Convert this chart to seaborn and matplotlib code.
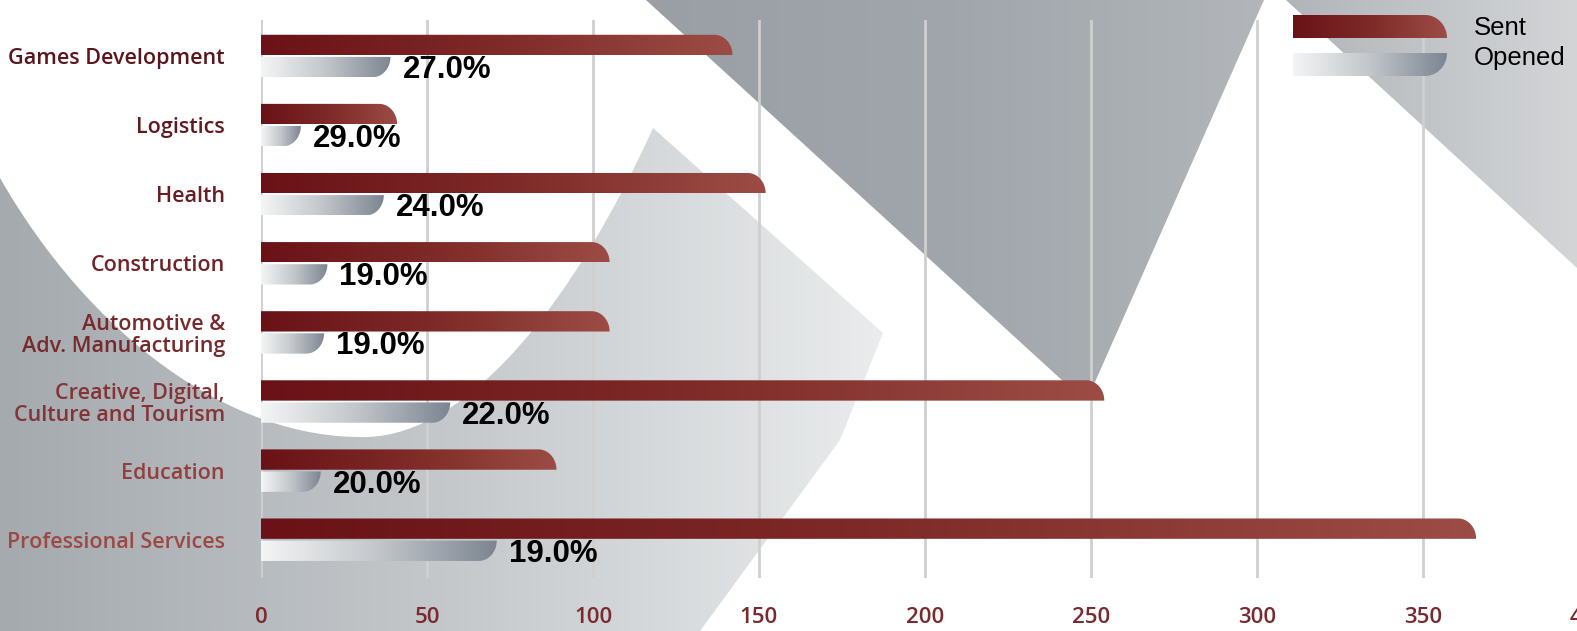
import numpy as np
import pandas as pd
import matplotlib
matplotlib.use("Agg")
import matplotlib.pyplot as plt
from matplotlib.path import Path
from matplotlib.patches import PathPatch
from matplotlib.colors import LinearSegmentedColormap
import seaborn as sns

# data
categories = [
    "Games Development",
    "Logistics",
    "Health",
    "Construction",
    "Automotive &\nAdv. Manufacturing",
    "Creative, Digital,\nCulture and Tourism",
    "Education",
    "Professional Services",
]
sent = [142, 41, 152, 105, 105, 254, 89, 366]
opened = [39, 12, 37, 20, 19, 57, 18, 71]
open_rate = [27.0, 29.0, 24.0, 19.0, 19.0, 22.0, 20.0, 19.0]
series = ["Sent", "Opened"]
x_ticks = [0, 50, 100, 150, 200, 250, 300, 350, 400]

label_colors = ["#5a161c", "#62191e", "#6a1d22", "#712328", "#78292c",
                "#843336", "#923f3d", "#9c4944"]
sent_cmap = LinearSegmentedColormap.from_list("sent", ["#6a1217", "#7e2a28", "#9c4c45"])
open_cmap = LinearSegmentedColormap.from_list("opened", ["#f4f5f5", "#c2c6ca", "#7c8591"])

W, H = 1577, 631
sns.set_style("white")
fig = plt.figure(figsize=(W / 100, H / 100), dpi=100)
fig.patch.set_facecolor("white")

# ---- decorative background, in pixel coordinates ----
bg = fig.add_axes([0, 0, 1, 1], zorder=0)
bg.set_xlim(0, W)
bg.set_ylim(H, 0)
bg.axis("off")


def grad_fill(axis, path, cmap, extent, horizontal=True, z=0):
    g = np.linspace(0, 1, 256)
    g = g[None, :] if horizontal else g[:, None]
    im = axis.imshow(g, cmap=cmap, extent=extent, aspect="auto", zorder=z,
                     interpolation="bicubic")
    patch = PathPatch(path, transform=axis.transData, facecolor="none", edgecolor="none")
    axis.add_patch(patch)
    im.set_clip_path(patch)
    return im


M, L, C4, CP = Path.MOVETO, Path.LINETO, Path.CURVE4, Path.CLOSEPOLY
left_shape = Path(
    [(0, 178), (90, 335), (230, 440), (367, 437),
     (470, 434), (575, 300), (653, 128),
     (883, 333), (840, 440), (700, 631), (0, 631), (0, 178)],
    [M, C4, C4, C4, C4, C4, C4, L, L, L, L, CP],
)
grad_fill(bg, left_shape,
          LinearSegmentedColormap.from_list("g1", ["#a5aaaf", "#c4c8cb", "#eaeced"]),
          (0, 890, H, 0))

v_shape = Path([(646, 0), (1064, 382), (1080, 390), (1095, 382), (1264, 0), (646, 0)],
               [M, L, L, L, L, CP])
grad_fill(bg, v_shape,
          LinearSegmentedColormap.from_list("g2", ["#999fa5", "#a0a6ac", "#b2b6ba"]),
          (646, 1264, 390, 0))

tr_shape = Path([(1286, 0), (W, 0), (W, 268), (1286, 0)], [M, L, L, CP])
grad_fill(bg, tr_shape,
          LinearSegmentedColormap.from_list("g3", ["#b1b5b9", "#d3d5d7"]),
          (1286, W, 268, 0))

# ---- main chart ----
df = pd.DataFrame({
    "Category": categories * 2,
    "Value": sent + opened,
    "Series": ["Sent"] * len(sent) + ["Opened"] * len(opened),
})

ax = fig.add_axes([261 / W, 53 / H, 1328 / W, 558 / H], zorder=2)
ax.patch.set_alpha(0)
sns.barplot(data=df, y="Category", x="Value", hue="Series", hue_order=series,
            order=categories, orient="h", width=0.64, gap=0.08, legend=False, ax=ax)
ax.set_xlim(0, 400)
ax.set_ylim(7.554, -0.521)

px_per_unit = ax.transData.transform((1, 0))[0] - ax.transData.transform((0, 0))[0]
rx = 18 / px_per_unit
t = np.linspace(0, np.pi / 2, 24)


def bar_path(x1, y, h, top_round):
    if top_round:
        arc = [(x1 - rx + rx * np.cos(a), y + h - h * np.sin(a)) for a in t]
        pts = [(0, y + h)] + arc + [(0, y), (0, y + h)]
    else:
        arc = [(x1 - rx + rx * np.cos(a), y + h * np.sin(a)) for a in t]
        pts = [(0, y)] + arc + [(0, y + h), (0, y)]
    codes = [M] + [L] * (len(pts) - 2) + [CP]
    return Path(pts, codes)


for k, (cont, cmap) in enumerate(zip(ax.containers, [sent_cmap, open_cmap])):
    for bar in cont:
        x1, y, h = bar.get_width(), bar.get_y(), bar.get_height()
        bar.set_visible(False)
        grad_fill(ax, bar_path(x1, y, h, k == 0), cmap, (0, x1, y + h, y), z=2)

for bar, r in zip(ax.containers[1], open_rate):
    ax.annotate(f"{r:.1f}%", xy=(bar.get_width(), bar.get_y() + bar.get_height() / 2),
                xytext=(12, -3), textcoords="offset pixels", va="center", ha="left",
                fontsize=22.5, fontweight="bold", family="Liberation Sans",
                color="black", zorder=4)

ax.set_xlim(0, 400)
ax.set_ylim(7.554, -0.521)
ax.set_xticks(x_ticks)
ax.set_xlabel("")
ax.set_ylabel("")
ax.grid(axis="x", color="#cfcfcf", linewidth=2)
ax.grid(axis="y", visible=False)
ax.set_axisbelow(True)
for s in ax.spines.values():
    s.set_visible(False)
ax.tick_params(axis="x", length=0, pad=21, labelsize=16, labelcolor="#7a2a2e")
ax.tick_params(axis="y", length=0, pad=26)
for lab in ax.get_xticklabels():
    lab.set_family("Open Sans")
    lab.set_fontweight("semibold")
for lab, col in zip(ax.get_yticklabels(), label_colors):
    lab.set_color(col)
    lab.set_family("Open Sans")
    lab.set_fontweight("semibold")
    lab.set_fontsize(15.5)
    lab.set_linespacing(1.05)

# ---- legend ----
lg = fig.add_axes([0, 0, 1, 1], zorder=5)
lg.set_xlim(0, W)
lg.set_ylim(H, 0)
lg.axis("off")
lg.patch.set_alpha(0)
for i, (name, cmap) in enumerate(zip(series, [sent_cmap, open_cmap])):
    y0 = 15 + i * 38
    x0, x1, hh, r = 1293, 1447, 23, 22
    if i == 0:
        arc = [(x1 - r + r * np.cos(a), y0 + hh - hh * np.sin(a)) for a in t]
        pts = [(x0, y0 + hh)] + arc + [(x0, y0), (x0, y0 + hh)]
    else:
        arc = [(x1 - r + r * np.cos(a), y0 + hh * np.sin(a)) for a in t]
        pts = [(x0, y0)] + arc + [(x0, y0 + hh), (x0, y0)]
    grad_fill(lg, Path(pts, [M] + [L] * (len(pts) - 2) + [CP]), cmap, (x0, x1, y0 + hh, y0), z=5)
    lg.text(1474, 28 + i * 30, name, fontsize=18.5, family="Liberation Sans",
            va="center", ha="left", color="black", zorder=6)

fig.savefig("out.png", dpi=100)
